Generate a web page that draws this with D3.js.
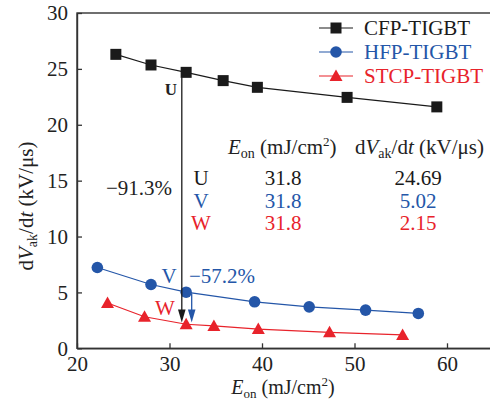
<!DOCTYPE html>
<html><head><meta charset="utf-8">
<script src="https://cdn.jsdelivr.net/npm/d3@7"></script>
<style>
html,body{margin:0;padding:0;background:#fff;}
svg{display:block;font-family:"Liberation Serif","Times New Roman",serif;}
</style></head>
<body>
<svg id="chart" width="490" height="414"></svg>
<script>
// ---- data ----
const cfpX = [24.2, 28.0, 31.8, 35.8, 39.5, 49.2, 58.9];
const cfpY = [26.3, 25.35, 24.69, 23.95, 23.35, 22.45, 21.6];
const hfpX = [22.2, 28.0, 31.8, 39.2, 45.1, 51.2, 56.9];
const hfpY = [7.23, 5.71, 5.02, 4.16, 3.71, 3.42, 3.12];
const stcpX = [23.3, 27.3, 31.8, 34.8, 39.6, 47.3, 55.2];
const stcpY = [4.05, 2.82, 2.15, 2.0, 1.72, 1.43, 1.2];
const seriesNames = ["CFP-TIGBT", "HFP-TIGBT", "STCP-TIGBT"];
const seriesColors = ["#1a1a1a", "#2456a8", "#e8232b"];
const seriesShapes = ["square", "circle", "triangle"];
const xTicks = [20, 30, 40, 50, 60];
const yTicks = [0, 5, 10, 15, 20, 25, 30];
const tableLabels = ["U", "V", "W"];
const tableEon = ["31.8", "31.8", "31.8"];
const tableDv = ["24.69", "5.02", "2.15"];
const pctBlack = "\u221291.3%";
const pctBlue = "\u221257.2%";

// ---- scales ----
const svg = d3.select("#chart");
const x = d3.scaleLinear().domain([20, 65]).range([77, 493.25]);
const y = d3.scaleLinear().domain([0, 30]).range([348.3, 13]);
const FS = 21;

// frame
svg.append("rect").attr("x", x(20)).attr("y", y(30))
  .attr("width", x(65) - x(20)).attr("height", y(0) - y(30))
  .attr("fill", "none").attr("stroke", "#333").attr("stroke-width", 1.4);

// axes
const xAxis = svg.append("g").attr("transform", `translate(0,${y(0)})`)
  .call(d3.axisBottom(x).tickValues(xTicks).tickSizeInner(-5).tickSizeOuter(0).tickPadding(8));
const yAxis = svg.append("g").attr("transform", `translate(${x(20)},0)`)
  .call(d3.axisLeft(y).tickValues(yTicks).tickSizeInner(-5).tickSizeOuter(0).tickPadding(9));
[xAxis, yAxis].forEach(g => {
  g.select(".domain").attr("stroke", "#333").attr("stroke-width", 1.4);
  g.selectAll(".tick line").attr("stroke", "#333").attr("stroke-width", 1.3);
  g.selectAll(".tick text").attr("font-size", FS).attr("fill", "#222")
    .attr("font-family", "Liberation Serif, serif");
});

// axis titles
const xt = svg.append("text").attr("x", 283).attr("y", 394).attr("text-anchor", "middle")
  .attr("font-size", 20).attr("fill", "#222");
xt.append("tspan").attr("font-style", "italic").text("E");
xt.append("tspan").attr("font-size", 13).attr("dy", 4).text("on");
xt.append("tspan").attr("dy", -4).text(" (mJ/cm");
xt.append("tspan").attr("font-size", 13).attr("dy", -8).text("2");
xt.append("tspan").attr("dy", 8).text(")");

const yt = svg.append("text").attr("transform", "translate(33,206) rotate(-90)")
  .attr("text-anchor", "middle").attr("font-size", FS).attr("fill", "#222");
yt.append("tspan").text("d");
yt.append("tspan").attr("font-style", "italic").text("V");
yt.append("tspan").attr("font-size", 14).attr("dy", 4).text("ak");
yt.append("tspan").attr("dy", -4).text("/d");
yt.append("tspan").attr("font-style", "italic").text("t");
yt.append("tspan").text(" (kV/\u03bcs)");

// series
const seriesData = [
  cfpX.map((v, i) => [v, cfpY[i]]),
  hfpX.map((v, i) => [v, hfpY[i]]),
  stcpX.map((v, i) => [v, stcpY[i]])
];
const line = d3.line().x(d => x(d[0])).y(d => y(d[1]));
function marker(g, shape, cx, cy, color) {
  if (shape === "square") {
    g.append("rect").attr("x", cx - 5.5).attr("y", cy - 5.5).attr("width", 11).attr("height", 11).attr("fill", color);
  } else if (shape === "circle") {
    g.append("circle").attr("cx", cx).attr("cy", cy).attr("r", 5.8).attr("fill", color);
  } else {
    g.append("path").attr("d", `M${cx},${cy - 6.5}L${cx + 6.5},${cy + 5}L${cx - 6.5},${cy + 5}Z`).attr("fill", color);
  }
}
seriesData.forEach((data, i) => {
  svg.append("path").datum(data).attr("d", line).attr("fill", "none")
    .attr("stroke", seriesColors[i]).attr("stroke-width", 1.2);
  const g = svg.append("g");
  data.forEach(d => marker(g, seriesShapes[i], x(d[0]), y(d[1]), seriesColors[i]));
});

// legend
seriesNames.forEach((name, i) => {
  const ly = 28 + i * 24;
  svg.append("line").attr("x1", 319).attr("x2", 353).attr("y1", ly).attr("y2", ly)
    .attr("stroke", seriesColors[i]).attr("stroke-width", 1.2);
  marker(svg, seriesShapes[i], 336, ly, seriesColors[i]);
  svg.append("text").attr("x", 364).attr("y", ly + 7).attr("font-size", FS)
    .attr("fill", seriesColors[i]).text(name);
});

// table header
const h1 = svg.append("text").attr("x", 228).attr("y", 154).attr("font-size", FS).attr("fill", "#222");
h1.append("tspan").attr("font-style", "italic").text("E");
h1.append("tspan").attr("font-size", 14).attr("dy", 4).text("on");
h1.append("tspan").attr("dy", -4).text(" (mJ/cm");
h1.append("tspan").attr("font-size", 13).attr("dy", -8).text("2");
h1.append("tspan").attr("dy", 8).text(")");
const h2 = svg.append("text").attr("x", 355).attr("y", 154).attr("font-size", FS).attr("fill", "#222");
h2.append("tspan").text("d");
h2.append("tspan").attr("font-style", "italic").text("V");
h2.append("tspan").attr("font-size", 14).attr("dy", 4).text("ak");
h2.append("tspan").attr("dy", -4).text("/d");
h2.append("tspan").attr("font-style", "italic").text("t");
h2.append("tspan").text(" (kV/\u03bcs)");
tableLabels.forEach((lab, i) => {
  const by = 185 + i * 22.5;
  svg.append("text").attr("x", 201).attr("y", by).attr("text-anchor", "middle")
    .attr("font-size", FS).attr("fill", seriesColors[i]).text(lab);
  svg.append("text").attr("x", 283).attr("y", by).attr("text-anchor", "middle")
    .attr("font-size", FS).attr("fill", seriesColors[i]).text(tableEon[i]);
  svg.append("text").attr("x", 418).attr("y", by).attr("text-anchor", "middle")
    .attr("font-size", FS).attr("fill", seriesColors[i]).text(tableDv[i]);
});

// annotations: arrows
function arrow(color, pathD, tipX, tipY) {
  svg.append("path").attr("d", pathD).attr("fill", "none").attr("stroke", color).attr("stroke-width", 1.3);
  svg.append("path").attr("d", `M${tipX},${tipY}L${tipX - 3.8},${tipY - 13}L${tipX + 3.8},${tipY - 13}Z`).attr("fill", color);
}
const bx = x(31.33), bTop = y(cfpY[2]) + 5, tipY = y(2.3);
arrow(seriesColors[0], `M${bx},${bTop}V${tipY - 10}`, bx, tipY);
const vx = x(32.4), vStartY = y(hfpY[2]) + 2;
arrow(seriesColors[1], `M${x(hfpX[2])},${vStartY}H${vx}V${tipY - 10}`, vx, tipY);

// annotation labels
svg.append("text").attr("x", 171).attr("y", 95).attr("text-anchor", "middle")
  .attr("font-size", 17).attr("font-weight", "bold").attr("fill", "#222").text("U");
svg.append("text").attr("x", 139).attr("y", 195).attr("text-anchor", "middle")
  .attr("font-size", FS).attr("fill", "#222").text(pctBlack);
svg.append("text").attr("x", 169).attr("y", 283).attr("text-anchor", "middle")
  .attr("font-size", FS).attr("fill", seriesColors[1]).text("V");
svg.append("text").attr("x", 222).attr("y", 283).attr("text-anchor", "middle")
  .attr("font-size", FS).attr("fill", seriesColors[1]).text(pctBlue);
svg.append("text").attr("x", 165).attr("y", 315).attr("text-anchor", "middle")
  .attr("font-size", FS).attr("fill", seriesColors[2]).text("W");
</script>
</body></html>
